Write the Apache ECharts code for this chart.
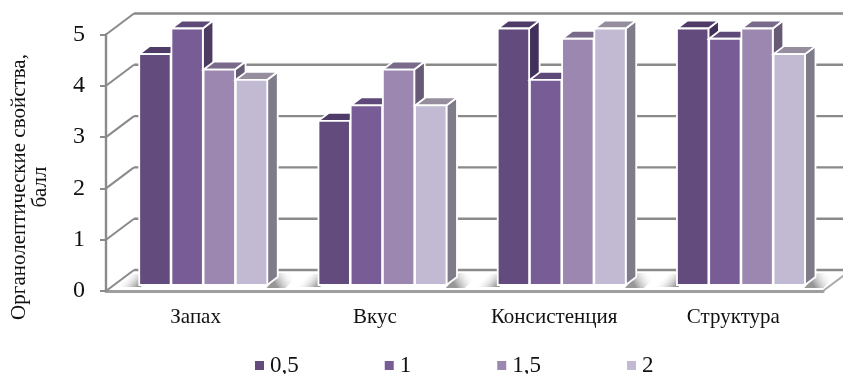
<!DOCTYPE html>
<html>
<head>
<meta charset="utf-8">
<style>html,body{margin:0;padding:0;background:#fff}#chart{width:843px;height:374px}</style>
<script src="https://cdn.jsdelivr.net/npm/echarts@6/dist/echarts.min.js"></script>
</head>
<body>
<div id="chart"></div>
<script>
// Organoleptic scores by property and additive dose
const categories = ['Запах', 'Вкус', 'Консистенция', 'Структура'];
const seriesNames = ['0,5', '1', '1,5', '2'];
const dose05 = [4.5, 3.2, 5, 5];
const dose1 = [5, 3.5, 4, 4.8];
const dose15 = [4.2, 4.2, 4.8, 5];
const dose2 = [4, 3.5, 5, 4.5];
const tickValues = [0, 1, 2, 3, 4, 5];
const axisTitle = 'Органолептические свойства,\nбалл';

const frontColors = ['#634B7D', '#775C96', '#9C87B0', '#C2BAD3'];
const topColors = ['#4E3B68', '#5E4A78', '#796A8C', '#968E9F'];
const sideColors = ['#41305A', '#4D3C62', '#665A75', '#7F7B89'];

// Oblique projection used for the walls and the bars
const WALL_DX = 28, WALL_DY = -21;
const BAR_DX = 10.5, BAR_DY = -8;
const BAR_INSET_X = 8, BAR_INSET_Y = -6;
const BAR_W = 32.2;
const GRID_COLOR = '#8A8A8A';

function line(x1, y1, x2, y2, color, width) {
  return { type: 'line', shape: { x1, y1, x2, y2 }, style: { stroke: color, lineWidth: width, fill: null }, silent: true };
}
function poly(points, fill, stroke) {
  return { type: 'polygon', shape: { points }, style: { fill, stroke: stroke || null, lineWidth: stroke ? 1.8 : 0 }, silent: true };
}
function shade(x1, y1, x2, y2) {
  return {
    type: 'linear', global: true, x: x1, y: y1, x2, y2,
    colorStops: [
      { offset: 0, color: 'rgba(125,125,125,0.8)' },
      { offset: 0.45, color: 'rgba(185,185,185,0.45)' },
      { offset: 1, color: 'rgba(255,255,255,0)' }
    ]
  };
}

// Back wall gridlines and the slanted lines on the side wall
function renderWall(params, api) {
  const v = api.value(0);
  const band = api.size([1, 0])[0];
  const p = api.coord([0, v]);
  const left = p[0] - band / 2, right = left + band * 4, y = p[1];
  const kids = [
    line(left, y, left + WALL_DX, y + WALL_DY, GRID_COLOR, 2),
    line(left + WALL_DX, y + WALL_DY, right + WALL_DX, y + WALL_DY, GRID_COLOR, 2.4)
  ];
  if (v === 0) {
    kids.push(line(right, y, right + WALL_DX, y + WALL_DY, '#ABABAB', 2));
  }
  return { type: 'group', children: kids };
}

// Soft floor shadows either side of each bar cluster
function renderShadow(params, api) {
  const c = api.coord([api.value(0), 0]);
  const x0 = c[0] + BAR_INSET_X - BAR_W * 2;
  const x1 = x0 + BAR_W * 4 + BAR_DX;
  const yb = c[1] + BAR_INSET_Y;
  return {
    type: 'group',
    children: [
      poly([[x0 - 22, yb + 2], [x0 - 8, yb - 11], [x0 + 2, yb - 11], [x0 + 2, yb + 2]],
        shade(x0 - 1, yb + 1, x0 - 13, yb - 10)),
      poly([[x1 + 1, yb - 12], [x1 + 22, yb - 12], [x1 + 7, yb + 3], [x1 - 12, yb + 3]],
        shade(x1 - 2, yb + 1, x1 + 15, yb - 9))
    ]
  };
}

// One oblique bar per category: front, top and side faces
function barRenderer(index) {
  return function (params, api) {
    const cat = api.value(0);
    const base = api.coord([cat, 0]);
    const top = api.coord([cat, api.value(1)]);
    const x = base[0] + BAR_INSET_X - BAR_W * 2 + BAR_W * index;
    const yb = base[1] + BAR_INSET_Y, yt = top[1] + BAR_INSET_Y;
    const w = BAR_W - 0.8;
    return {
      type: 'group',
      children: [
        poly([[x + w, yt], [x + w + BAR_DX, yt + BAR_DY], [x + w + BAR_DX, yb + BAR_DY], [x + w, yb]], sideColors[index], '#fff'),
        poly([[x, yt], [x + BAR_DX, yt + BAR_DY], [x + w + BAR_DX, yt + BAR_DY], [x + w, yt]], topColors[index], '#fff'),
        poly([[x, yt], [x + w, yt], [x + w, yb], [x, yb]], frontColors[index], '#fff')
      ]
    };
  };
}

const doses = [dose05, dose1, dose15, dose2];
const chart = echarts.init(document.getElementById('chart'), null, { renderer: 'canvas' });
chart.setOption({
  animation: false,
  backgroundColor: '#fff',
  color: frontColors,
  textStyle: { fontFamily: 'Liberation Serif', color: '#111' },
  grid: { left: 106, right: 20, top: 34.5, bottom: 83 },
  xAxis: {
    type: 'category',
    data: categories,
    boundaryGap: true,
    axisLine: { show: true, lineStyle: { color: '#9E9E9E', width: 3 } },
    axisTick: { show: false },
    axisLabel: { fontSize: 21, margin: 16, color: '#111', fontFamily: 'Liberation Serif' }
  },
  yAxis: {
    type: 'value',
    min: 0, max: 5, interval: 1,
    axisLine: { show: true, lineStyle: { color: GRID_COLOR, width: 2.4 } },
    axisTick: { show: true, length: 6, lineStyle: { color: GRID_COLOR, width: 2 } },
    splitLine: { show: false },
    axisLabel: { fontSize: 24, margin: 21, color: '#111', fontFamily: 'Liberation Serif' }
  },
  legend: {
    data: seriesNames,
    left: 250, top: 349,
    icon: 'rect', itemWidth: 9, itemHeight: 9, itemGap: 86,
    textStyle: { fontSize: 23, color: '#111', fontFamily: 'Liberation Serif', padding: [0, 0, 0, 1] }
  },
  graphic: [{
    type: 'text', rotation: Math.PI / 2, x: 30, y: 187,
    style: {
      text: axisTitle, fontSize: 21, fontFamily: 'Liberation Serif', fill: '#111',
      align: 'center', verticalAlign: 'middle', lineHeight: 21
    }
  }],
  series: [
    { type: 'custom', name: 'wall', coordinateSystem: 'cartesian2d', clip: false, silent: true,
      data: tickValues.map(v => [v]), encode: { y: 0 }, renderItem: renderWall },
    { type: 'custom', name: 'shadow', coordinateSystem: 'cartesian2d', clip: false, silent: true,
      data: categories.map((c, i) => [i]), encode: { x: 0 }, renderItem: renderShadow }
  ].concat(doses.map((vals, i) => ({
    type: 'custom',
    name: seriesNames[i],
    coordinateSystem: 'cartesian2d',
    clip: false,
    itemStyle: { color: frontColors[i] },
    encode: { x: 0, y: 1 },
    data: vals.map((v, c) => [c, v]),
    renderItem: barRenderer(i)
  })))
});
</script>
</body>
</html>
